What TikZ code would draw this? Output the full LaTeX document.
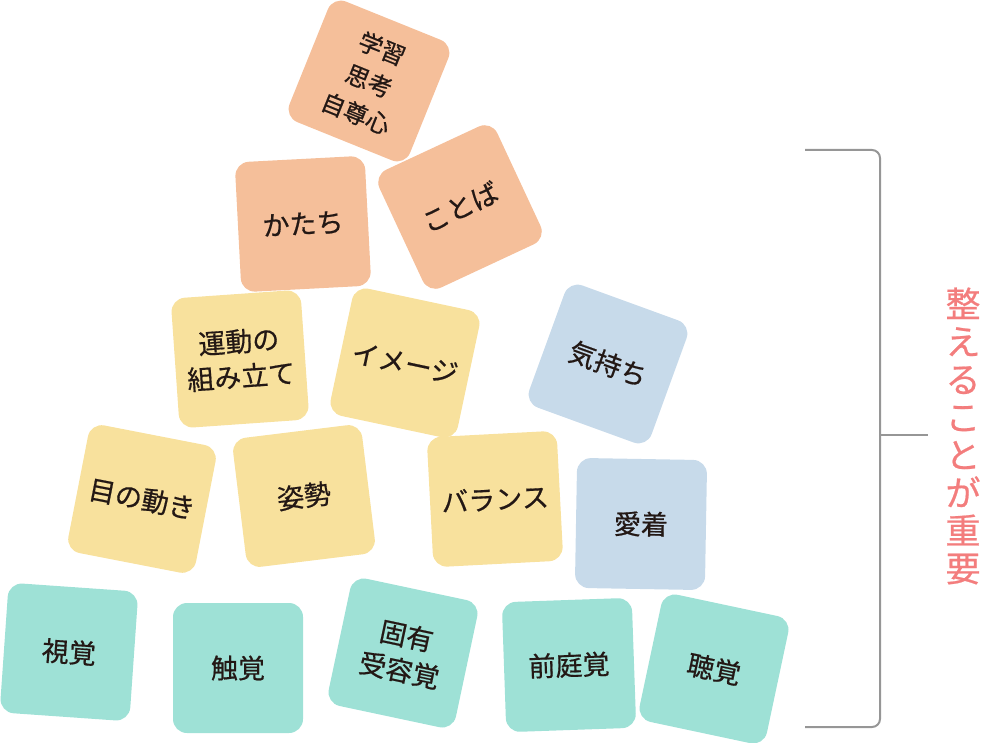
\documentclass[tikz,border=0pt]{standalone}
\usepackage{fontspec}
\usepackage{xcolor}
\usepackage{tikz}
\newfontfamily\jp[FakeBold=0.6]{Noto Sans CJK JP}
\definecolor{peach}{RGB}{245,191,154}
\definecolor{cream}{RGB}{248,225,157}
\definecolor{sky}{RGB}{199,218,234}
\definecolor{mint}{RGB}{158,225,214}
\definecolor{ink}{RGB}{35,24,21}
\definecolor{coral}{RGB}{243,125,125}
\definecolor{rulegray}{RGB}{150,150,150}

\begin{document}
\begin{tikzpicture}[x=1pt, y=-1pt, font=\jp]
		\tikzstyle{card} = [rectangle, rounded corners=14pt, minimum width=130pt, minimum height=130pt, inner sep=0pt, align=center, text=ink, font={\jp\fontsize{27}{35}\selectfont}]
		\tikzstyle{slogan} = [inner sep=0pt, align=center, text=coral, font={\jp\fontsize{35}{37.8}\selectfont}]
		\tikzstyle{bracket} = [draw=rulegray, line width=2pt, rounded corners=8pt]
		
		\useasboundingbox (0, 0) rectangle (984, 743);
		
		% top
		\node[card, fill=peach, rotate=-22, font={\jp\fontsize{24}{35}\selectfont}]	at (369, 81)	(learn)	{学習\\思考\\自尊心};
		\node[card, fill=peach, rotate=3]		at (303, 224)	(shape)	{かたち};
		\node[card, fill=peach, rotate=25]		at (460, 207)	(words)	{ことば};
		
		% middle
		\node[card, fill=cream, rotate=4]		at (240, 359)	(plan)	{運動の\\組み立て};
		\node[card, fill=cream, rotate=-12]	at (405, 363)	(image)	{イメージ};
		\node[card, fill=sky, rotate=-20]		at (608, 364)	(mood)	{気持ち};
		\node[card, fill=cream, rotate=-11]	at (142, 499)	(eyes)	{目の動き};
		\node[card, fill=cream, rotate=7]		at (304, 496)	(pose)	{姿勢};
		\node[card, fill=cream, rotate=3]		at (495, 499)	(balance)	{バランス};
		\node[card, fill=sky, rotate=-1]		at (641, 524)	(bond)	{愛着};
		
		% senses
		\node[card, fill=mint, rotate=-4]		at (69, 652)	(sight)	{視覚};
		\node[card, fill=mint]					at (238, 668)	(touch)	{触覚};
		\node[card, fill=mint, rotate=-12]		at (403, 653)	(proprio)	{固有\\受容覚};
		\node[card, fill=mint, rotate=2]		at (569, 665)	(vestib)	{前庭覚};
		\node[card, fill=mint, rotate=-12]		at (714, 669)	(hearing)	{聴覚};
		
		\node[slogan]	at (963, 436)	(slogan)	{整\\え\\る\\こ\\と\\が\\重\\要};
		
		\coordinate (btop) at (805, 150);
		\coordinate (bbot) at (805, 727);
		\coordinate (bmid) at (880, 435);
		\coordinate (btick) at (928, 435);
		
		\draw [bracket] (btop) -| (bmid) |- (bbot);
		\draw [bracket] (bmid) -- (btick);
	\end{tikzpicture}
\end{document}
